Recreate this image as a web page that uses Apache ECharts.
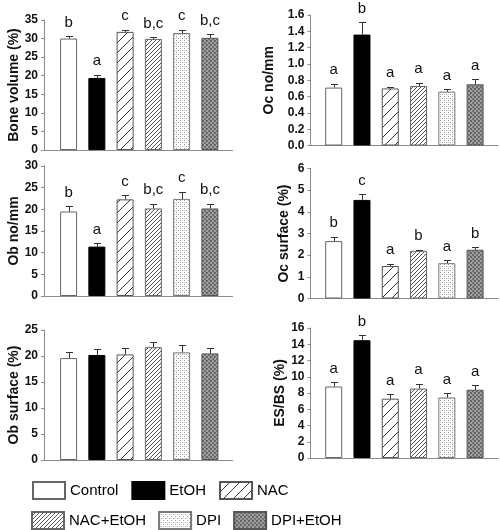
<!DOCTYPE html>
<html>
<head>
<meta charset="utf-8">
<script src="https://cdn.jsdelivr.net/npm/echarts@6/dist/echarts.min.js"></script>
<style>html,body{margin:0;padding:0;background:#fff}#chart{width:500px;height:530px}</style>
</head>
<body>
<div id="chart"></div>
<script>
// ---------- DATA ----------
const categories = ['Control', 'EtOH', 'NAC', 'NAC+EtOH', 'DPI', 'DPI+EtOH'];

const boneVolume        = [30.0, 19.4, 31.8, 29.9, 31.5, 30.2];
const boneVolumeErr     = [0.6, 0.9, 0.6, 0.5, 0.9, 0.9];
const boneVolumeLetters = ['b', 'a', 'c', 'b,c', 'c', 'b,c'];
const boneVolumeTicks   = [0, 35, 5];

const ocNo        = [0.71, 1.36, 0.70, 0.73, 0.66, 0.75];
const ocNoErr     = [0.05, 0.15, 0.02, 0.04, 0.03, 0.06];
const ocNoLetters = ['a', 'b', 'a', 'a', 'a', 'a'];
const ocNoTicks   = [0, 1.6, 0.2];

const obNo        = [19.5, 11.4, 22.3, 20.2, 22.4, 20.2];
const obNoErr     = [1.2, 0.8, 1.0, 1.1, 1.7, 1.1];
const obNoLetters = ['b', 'a', 'c', 'b,c', 'c', 'b,c'];
const obNoTicks   = [0, 30, 5];

const ocSurface        = [2.65, 4.55, 1.50, 2.20, 1.63, 2.25];
const ocSurfaceErr     = [0.20, 0.27, 0.10, 0.06, 0.15, 0.12];
const ocSurfaceLetters = ['b', 'c', 'a', 'b', 'a', 'b'];
const ocSurfaceTicks   = [0, 6, 1];

const obSurface        = [19.6, 20.2, 20.3, 21.7, 20.7, 20.5];
const obSurfaceErr     = [1.2, 1.1, 1.2, 1.0, 1.5, 1.0];
const obSurfaceLetters = ['', '', '', '', '', ''];
const obSurfaceTicks   = [0, 25, 5];

const esbs        = [8.8, 14.5, 7.3, 8.55, 7.45, 8.4];
const esbsErr     = [0.55, 0.6, 0.55, 0.6, 0.55, 0.6];
const esbsLetters = ['a', 'b', 'a', 'a', 'a', 'a'];
const esbsTicks   = [0, 16, 2];

const panelTitles = ['Bone volume (%)', 'Oc no/mm', 'Ob no/mm', 'Oc surface (%)', 'Ob surface (%)', 'ES/BS (%)'];
const panelValues = [boneVolume, ocNo, obNo, ocSurface, obSurface, esbs];
const panelErrs = [boneVolumeErr, ocNoErr, obNoErr, ocSurfaceErr, obSurfaceErr, esbsErr];
const panelLetters = [boneVolumeLetters, ocNoLetters, obNoLetters, ocSurfaceLetters, obSurfaceLetters, esbsLetters];
const panelTicks = [boneVolumeTicks, ocNoTicks, obNoTicks, ocSurfaceTicks, obSurfaceTicks, esbsTicks];
const panelDecimals = [0, 1, 0, 0, 0, 0];

// ---------- LAYOUT ----------
const layout = [
  {left: 44, width: 188.5, top: 20, height: 130, xmin: -0.87, xmax: 5.8, nameGap: 19},
  {left: 310.5, width: 187.5, top: 15, height: 130.5, xmin: -0.82, xmax: 5.81, nameGap: 34},
  {left: 44, width: 188.5, top: 166, height: 130, xmin: -0.87, xmax: 5.8, nameGap: 19},
  {left: 310.5, width: 187.5, top: 168.5, height: 130, xmin: -0.82, xmax: 5.81, nameGap: 19},
  {left: 44, width: 188.5, top: 330, height: 130, xmin: -0.87, xmax: 5.8, nameGap: 19},
  {left: 310.5, width: 187.5, top: 328, height: 130, xmin: -0.82, xmax: 5.81, nameGap: 19}
];
const FONT = '"Liberation Sans", Arial, sans-serif';

// ---------- PATTERNS ----------
function makePattern(size, draw) {
  const c = document.createElement('canvas');
  c.width = size; c.height = size;
  const ctx = c.getContext('2d');
  draw(ctx, size);
  return c;
}
function diag(color, bg, size, lw) {
  return makePattern(size, (ctx, s) => {
    ctx.fillStyle = bg; ctx.fillRect(0, 0, s, s);
    ctx.strokeStyle = color; ctx.lineWidth = lw;
    ctx.beginPath();
    ctx.moveTo(-1, s + 1); ctx.lineTo(s + 1, -1);
    ctx.moveTo(-1, 1); ctx.lineTo(1, -1);
    ctx.moveTo(s - 1, s + 1); ctx.lineTo(s + 1, s - 1);
    ctx.stroke();
  });
}
const patNAC = diag('#333', '#fff', 10, 1);
const patNACEtOH = diag('#555', '#fff', 4, 1);
const patDPI = makePattern(4, (ctx, s) => {
  ctx.fillStyle = '#fff'; ctx.fillRect(0, 0, s, s);
  ctx.fillStyle = '#999'; ctx.fillRect(0, 0, 1, 1); ctx.fillRect(2, 2, 1, 1);
  ctx.fillStyle = '#ccc'; ctx.fillRect(0, 2, 1, 1);
});
const patDPIEtOH = makePattern(4, (ctx, s) => {
  ctx.fillStyle = '#6e6e6e'; ctx.fillRect(0, 0, s, s);
  ctx.fillStyle = '#a0a0a0'; ctx.fillRect(0, 0, 2, 2); ctx.fillRect(2, 2, 2, 2);
  ctx.fillStyle = '#4a4a4a'; ctx.fillRect(2, 0, 1, 1);
});
const barStyles = [
  {color: '#fff', borderColor: '#666', borderWidth: 1},
  {color: '#000', borderColor: '#000', borderWidth: 1},
  {color: {image: patNAC, repeat: 'repeat'}, borderColor: '#555', borderWidth: 1},
  {color: {image: patNACEtOH, repeat: 'repeat'}, borderColor: '#666', borderWidth: 1},
  {color: {image: patDPI, repeat: 'repeat'}, borderColor: '#777', borderWidth: 1},
  {color: {image: patDPIEtOH, repeat: 'repeat'}, borderColor: '#555', borderWidth: 1}
];

// ---------- OPTION ----------
const grid = [], xAxis = [], yAxis = [], series = [];
layout.forEach((L, p) => {
  grid.push({left: L.left, top: L.top, width: L.width, height: L.height, containLabel: false});
  xAxis.push({
    type: 'value', gridIndex: p, min: L.xmin, max: L.xmax,
    axisLine: {show: true, onZero: false, lineStyle: {color: '#8a8a8a', width: 1}},
    axisTick: {show: false}, axisLabel: {show: false}, splitLine: {show: false}
  });
  const t = panelTicks[p];
  const dec = panelDecimals[p];
  yAxis.push({
    type: 'value', gridIndex: p, min: t[0], max: t[1], interval: t[2],
    name: panelTitles[p], nameLocation: 'middle', nameGap: L.nameGap,
    nameTextStyle: {fontFamily: FONT, fontWeight: 'bold', fontSize: 14, color: '#111'},
    axisLine: {show: true, onZero: false, lineStyle: {color: '#8a8a8a', width: 1}},
    axisTick: {show: true, length: 3, lineStyle: {color: '#8a8a8a'}},
    axisLabel: {fontFamily: FONT, fontWeight: 'bold', fontSize: 12, color: '#111', margin: 6,
      formatter: v => v.toFixed(dec)},
    splitLine: {show: false}
  });
  const vals = panelValues[p];
  categories.forEach((c, i) => {
    series.push({
      type: 'bar', name: c, xAxisIndex: p, yAxisIndex: p,
      data: [[i, vals[i]]], barWidth: 17, barGap: '-100%',
      itemStyle: barStyles[i], silent: true
    });
  });
  const errs = panelErrs[p], letters = panelLetters[p];
  series.push({
    type: 'custom', xAxisIndex: p, yAxisIndex: p, z: 5, silent: true,
    data: vals.map((v, i) => [i, v, errs[i]]),
    renderItem: (params, api) => {
      const x = api.value(0), m = api.value(1), e = api.value(2);
      const b = api.coord([x, m]), tp = api.coord([x, m + e]);
      const cx = Math.round(tp[0]) + 0.5, ty = Math.round(tp[1]) + 0.5;
      const children = [
        {type: 'line', shape: {x1: cx, y1: b[1], x2: cx, y2: ty}, style: {stroke: '#333', lineWidth: 1}},
        {type: 'line', shape: {x1: cx - 3.5, y1: ty, x2: cx + 3.5, y2: ty}, style: {stroke: '#333', lineWidth: 1}}
      ];
      const letter = letters[params.dataIndex];
      if (letter) {
        children.push({type: 'text', x: tp[0], y: tp[1] - 6,
          style: {text: letter, textAlign: 'center', textVerticalAlign: 'bottom',
            font: '15px ' + FONT, fill: '#111'}});
      }
      return {type: 'group', children};
    }
  });
});

const legendBase = {
  orient: 'horizontal', icon: 'rect', itemWidth: 32, itemHeight: 17, padding: 0,
  selectedMode: false, textStyle: {fontFamily: FONT, fontSize: 15, color: '#000'}
};
const option = {
  animation: false,
  backgroundColor: '#fff',
  grid, xAxis, yAxis, series,
  legend: [
    Object.assign({}, legendBase, {data: categories.slice(0, 3), left: 32, top: 481, itemGap: 13}),
    Object.assign({}, legendBase, {data: categories.slice(3), left: 31, top: 511, itemGap: 12})
  ]
};
const chart = echarts.init(document.getElementById('chart'), null, {renderer: 'canvas'});
chart.setOption(option);
</script>
</body>
</html>
